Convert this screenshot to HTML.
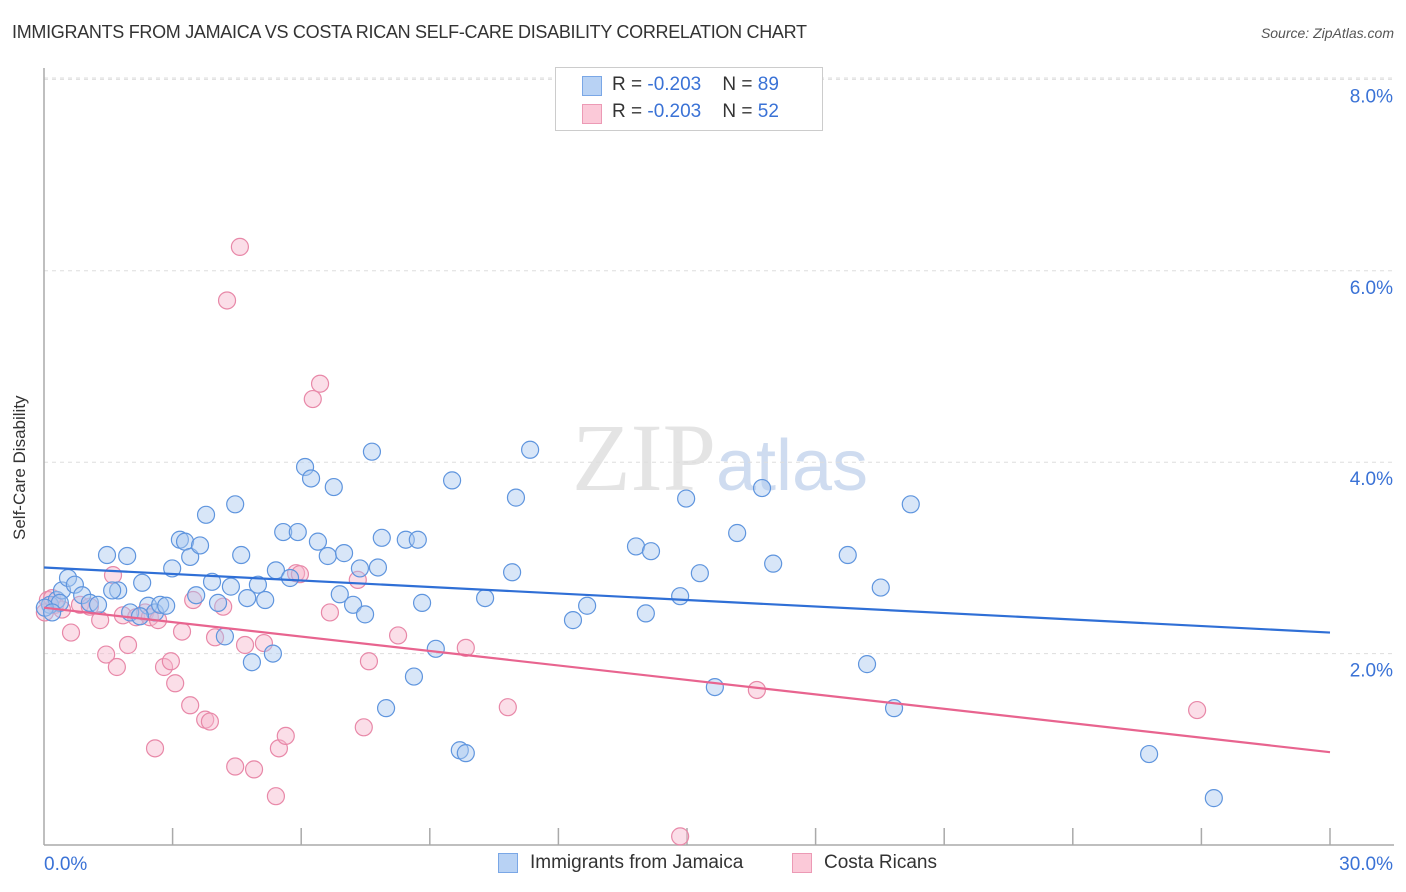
<!DOCTYPE html>
<html><head><meta charset="utf-8"><style>
body{margin:0;background:#fff;font-family:"Liberation Sans",sans-serif;}
#wrap{position:relative;width:1406px;height:892px;overflow:hidden;}
.t{position:absolute;white-space:nowrap;}
</style></head><body>
<div id="wrap">
<div class="t" style="left:12px;top:22px;font-size:18px;color:#333;letter-spacing:-0.3px">IMMIGRANTS FROM JAMAICA VS COSTA RICAN SELF-CARE DISABILITY CORRELATION CHART</div>
<div class="t" style="right:12px;top:25px;font-size:14px;color:#555;font-style:italic">Source: ZipAtlas.com</div>
<svg id="svg" width="1406" height="892" style="position:absolute;left:0;top:0">
<text x="720" y="490" text-anchor="middle" font-family="Liberation Serif" font-size="96" fill="#e4e4e4">ZIP<tspan font-family="Liberation Sans" fill="#cfdcf0" font-size="72">atlas</tspan></text>
</svg>
<div class="t" style="left:555px;top:67px;width:266px;height:62px;border:1px solid #ccc;background:#fff">
<div style="position:absolute;left:26px;top:8px;width:18px;height:18px;background:#b8d2f4;border:1px solid #7aa7e6"></div>
<div style="position:absolute;left:56px;top:6px;font-size:19px;color:#333">R = <span style="color:#3a72d6">-0.203</span>&nbsp;&nbsp;&nbsp; N = <span style="color:#3a72d6">89</span></div>
<div style="position:absolute;left:26px;top:36px;width:18px;height:18px;background:#fbc9d8;border:1px solid #ec9ab5"></div>
<div style="position:absolute;left:56px;top:33px;font-size:19px;color:#333">R = <span style="color:#3a72d6">-0.203</span>&nbsp;&nbsp;&nbsp; N = <span style="color:#3a72d6">52</span></div>
</div>
<div class="t" style="left:10px;top:540px;transform:rotate(-90deg);transform-origin:0 0;font-size:17px;color:#333">Self-Care Disability</div>
<div class="t" style="left:498px;top:853px;width:18px;height:18px;background:#b8d2f4;border:1px solid #7aa7e6"></div>
<div class="t" style="left:530px;top:852px;font-size:19px;color:#333">Immigrants from Jamaica</div>
<div class="t" style="left:792px;top:853px;width:18px;height:18px;background:#fbc9d8;border:1px solid #ec9ab5"></div>
<div class="t" style="left:824px;top:852px;font-size:19px;color:#333">Costa Ricans</div>
</div>
<script>
const yTicks=[2,4,6,8];
const yTickLabels=["2.0%","4.0%","6.0%","8.0%"];
const xTicks=[3,6,9,12,15,18,21,24,27,30];
const blueX=[.14,.30,.42,.56,.72,.89,1.07,1.26,1.47,1.73,1.94,2.29,2.01,2.43,2.59,2.71,2.85,2.99,3.17,3.29,3.41,3.55,3.64,3.78,3.92,4.06,4.22,4.36,4.46,4.60,4.74,4.85,4.99,5.16,5.34,5.41,5.58,5.74,5.92,6.09,6.23,6.39,6.62,6.76,6.90,7.00,7.21,7.37,7.49,7.65,7.79,7.88,7.98,8.44,8.63,8.72,8.82,9.14,9.52,9.70,9.84,10.29,10.92,11.01,11.34,12.34,12.67,13.81,14.04,14.16,14.84,14.98,15.30,15.65,16.17,16.75,17.01,18.75,19.20,19.52,19.83,20.22,25.78,27.29,.37,.02,.19,1.59,2.24];
const blueY=[2.51,2.56,2.66,2.79,2.72,2.61,2.53,2.51,3.03,2.66,3.02,2.74,2.43,2.50,2.43,2.51,2.50,2.89,3.19,3.17,3.01,2.61,3.13,3.45,2.75,2.53,2.18,2.70,3.56,3.03,2.58,1.91,2.72,2.56,2.00,2.87,3.27,2.79,3.27,3.95,3.83,3.17,3.02,3.74,2.62,3.05,2.51,2.89,2.41,4.11,2.90,3.21,1.43,3.19,1.76,3.19,2.53,2.05,3.81,0.99,0.96,2.58,2.85,3.63,4.13,2.35,2.50,3.12,2.42,3.07,2.60,3.62,2.84,1.65,3.26,3.73,2.94,3.03,1.89,2.69,1.43,3.56,0.95,0.49,2.53,2.48,2.43,2.66,2.39];
const pinkX=[.09,.26,.42,.63,.84,1.07,1.31,1.45,1.61,1.70,1.84,1.96,2.15,2.36,2.47,2.59,2.66,2.80,2.96,3.06,3.22,3.41,3.48,3.76,3.87,3.99,4.18,4.27,4.46,4.57,4.69,4.90,5.13,5.41,5.48,5.64,5.88,6.27,6.44,6.67,7.32,7.46,7.58,8.26,9.84,10.82,14.84,16.63,26.90,.02,5.97,.19];
const pinkY=[2.56,2.51,2.46,2.22,2.51,2.49,2.35,1.99,2.82,1.86,2.40,2.09,2.38,2.43,2.38,1.01,2.35,1.86,1.92,1.69,2.23,1.46,2.56,1.31,1.29,2.17,2.49,5.69,0.82,6.25,2.09,0.79,2.11,0.51,1.01,1.14,2.84,4.66,4.82,2.43,2.77,1.23,1.92,2.19,2.06,1.44,0.09,1.62,1.41,2.43,2.83,2.58];
const blueTrend=[2.90,2.22];
const pinkTrend=[2.48,0.97];
const X0=44,X1=1330,Y0=845,PX=95.7;
function sx(v){return X0+(X1-X0)*v/30;}
function sy(v){return Y0-v*PX;}
const svg=document.getElementById('svg');
const NS='http://www.w3.org/2000/svg';
function mk(tag,attrs){const e=document.createElementNS(NS,tag);for(const k in attrs)e.setAttribute(k,attrs[k]);svg.appendChild(e);return e;}
let g=mk('line',{x1:X0,x2:1394,y1:78,y2:78,stroke:'#ddd','stroke-dasharray':'4,4'});


yTicks.forEach((v,i)=>{
 const l=mk('line',{x1:X0,x2:1394,y1:sy(v),y2:sy(v),stroke:'#ddd','stroke-dasharray':'4,4'});
 
 
 const t=mk('text',{x:1393,y:sy(v)+23,'text-anchor':'end','font-size':19,fill:'#3a72d6','font-family':'Liberation Sans'});
 t.textContent=yTickLabels[i];
 
 
});
let a=mk('line',{x1:X0,x2:X0,y1:68,y2:Y0,stroke:'#aaa','stroke-width':1.5});


a=mk('line',{x1:X0,x2:1394,y1:Y0,y2:Y0,stroke:'#aaa','stroke-width':1.5});


xTicks.forEach(v=>{
 const l=mk('line',{x1:sx(v),x2:sx(v),y1:828,y2:Y0,stroke:'#aaa','stroke-width':1.5});
 
 
});
let t=mk('text',{x:44,y:870,'font-size':19,fill:'#3a72d6','font-family':'Liberation Sans'});t.textContent='0.0%';


t=mk('text',{x:1393,y:870,'text-anchor':'end','font-size':19,fill:'#3a72d6','font-family':'Liberation Sans'});t.textContent='30.0%';


function pts(xs,ys,fill,stroke,name){
 xs.forEach((x,i)=>{
  const c=mk('circle',{cx:sx(x),cy:sy(ys[i]),r:8.5,fill:fill,'fill-opacity':0.45,stroke:stroke,'stroke-width':1.2});
  
  
 });
}
pts(pinkX,pinkY,'#f7b6cb','#e888a8','costa-rican-point');
pts(blueX,blueY,'#a9c7f0','#5f95de','jamaica-point');
let tl=mk('line',{x1:sx(0),x2:sx(30),y1:sy(blueTrend[0]),y2:sy(blueTrend[1]),stroke:'#2f6fd6','stroke-width':2.2});


tl=mk('line',{x1:sx(0),x2:sx(30),y1:sy(pinkTrend[0]),y2:sy(pinkTrend[1]),stroke:'#e8648f','stroke-width':2.2});


</script>
</body></html>
